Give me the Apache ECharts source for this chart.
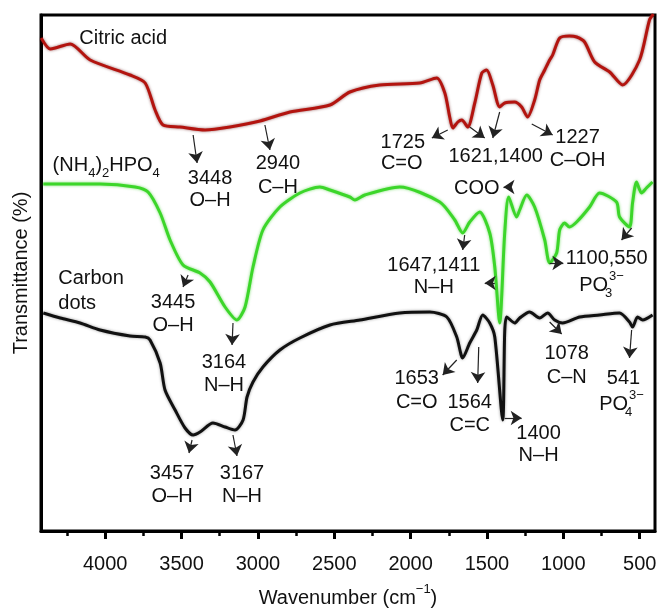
<!DOCTYPE html>
<html>
<head>
<meta charset="utf-8">
<script src="https://cdn.jsdelivr.net/npm/echarts@6/dist/echarts.min.js"></script>
<style>
  html, body { margin: 0; padding: 0; background: #fff; }
  #chart { width: 662px; height: 608px; }
</style>
</head>
<body>
<div id="chart"></div>
<script>
// wavenumber (cm-1), relative transmittance (arbitrary units)
const citricAcid = [
  [4419, 493], [4360, 482], [4327, 483], [4229, 487], [4098, 471], [3837, 456],
  [3738, 448], [3673, 421], [3621, 406], [3510, 404], [3346, 401], [3183, 404],
  [2986, 410], [2790, 419], [2528, 426], [2398, 439], [2202, 446], [1940, 448],
  [1829, 453], [1776, 438], [1744, 414], [1724, 403], [1691, 409], [1665, 411],
  [1626, 404], [1580, 428], [1534, 458], [1502, 461], [1462, 446], [1417, 424],
  [1384, 428], [1319, 429], [1273, 424], [1234, 414], [1188, 431], [1155, 451],
  [1122, 461], [1090, 471], [1070, 476], [1024, 493], [960, 495], [913, 494],
  [861, 489], [795, 469], [697, 459], [612, 446], [501, 471], [436, 511], [410, 517]
]

const ammoniumPhosphate = [
  [4405, 347], [4033, 347], [3804, 344], [3719, 339], [3640, 318], [3575, 291],
  [3490, 266], [3379, 258], [3313, 249], [3215, 224], [3137, 211], [3084, 224],
  [3032, 264], [2967, 301], [2856, 324], [2725, 338], [2594, 344], [2528, 341],
  [2398, 334], [2365, 331], [2300, 336], [2071, 344], [1809, 329], [1711, 311],
  [1659, 298], [1613, 309], [1548, 319], [1482, 298], [1449, 264], [1417, 208],
  [1384, 298], [1358, 334], [1306, 314], [1286, 321], [1240, 336], [1188, 324],
  [1122, 291], [1090, 268], [1044, 278], [1024, 301], [992, 308], [960, 304],
  [913, 309], [828, 324], [763, 338], [652, 329], [632, 314], [567, 304],
  [547, 328], [521, 349], [488, 338], [456, 343], [416, 349]
]

const carbonDots = [
  [4405, 218], [4294, 213], [4164, 208], [4033, 201], [3837, 195], [3738, 194],
  [3706, 191], [3640, 168], [3608, 141], [3542, 121], [3477, 103], [3424, 96],
  [3379, 99], [3294, 108], [3215, 104], [3150, 101], [3097, 111], [3071, 134],
  [3032, 149], [2967, 164], [2856, 181], [2725, 193], [2528, 206], [2332, 211],
  [2071, 218], [1874, 219], [1763, 214], [1698, 194], [1659, 173], [1613, 188],
  [1567, 201], [1528, 216], [1482, 208], [1449, 194], [1397, 111], [1384, 199],
  [1371, 214], [1319, 208], [1286, 213], [1221, 219], [1155, 213], [1103, 218],
  [1057, 211], [1005, 208], [893, 214], [763, 216], [632, 218], [567, 209],
  [547, 204], [514, 214], [481, 211], [416, 216]
]

const majorTicks = [4000, 3500, 3000, 2500, 2000, 1500, 1000, 500]
const minorTicks = [4250, 3750, 3250, 2750, 2250, 1750, 1250, 750]

// annotation text: [wavenumber, value, text, align]
const notes = [
  [3882, 493, '{n|Citric acid}', 'center'],
  [3993, 366, '{n|(NH}{sub|4}{n|)}{sub|2}{n|HPO}{sub|4}', 'center'],
  [4307, 253, '{n|Carbon}', 'left'],
  [4307, 228, '{n|dots}', 'left'],
  [3313, 353, '{n|3448}', 'center'], [3313, 331, '{n|O–H}', 'center'],
  [2869, 368, '{n|2940}', 'center'], [2869, 344, '{n|C–H}', 'center'],
  [2051, 389, '{n|1725}', 'center'], [2058, 368, '{n|C=O}', 'center'],
  [1443, 375, '{n|1621,1400}', 'center'],
  [1567, 343, '{n|COO}', 'center'],
  [907, 394, '{n|1227}', 'center'], [907, 371, '{n|C–OH}', 'center'],
  [3555, 229, '{n|3445}', 'center'], [3555, 206, '{n|O–H}', 'center'],
  [3222, 169, '{n|3164}', 'center'], [3222, 146, '{n|N–H}', 'center'],
  [3562, 58, '{n|3457}', 'center'], [3562, 35, '{n|O–H}', 'center'],
  [3104, 58, '{n|3167}', 'center'], [3104, 35, '{n|N–H}', 'center'],
  [1848, 266, '{n|1647,1411}', 'center'], [1848, 244, '{n|N–H}', 'center'],
  [716, 273, '{n|1100,550}', 'center'],
  [750, 246, '{n|PO}{subS|3}{sup|3−}', 'center'],
  [1960, 153, '{n|1653}', 'center'], [1960, 129, '{n|C=O}', 'center'],
  [1613, 129, '{n|1564}', 'center'], [1613, 106, '{n|C=C}', 'center'],
  [1162, 98, '{n|1400}', 'center'], [1162, 76, '{n|N–H}', 'center'],
  [978, 178, '{n|1078}', 'center'], [978, 154, '{n|C–N}', 'center'],
  [606, 153, '{n|541}', 'center'],
  [619, 127, '{n|PO}{subS|4}{sup|3−}', 'center']
]

// arrows: [from wn, from value, to wn, to value] (head at "to")
const arrows = [
  [3424, 396, 3398, 368], [2954, 406, 2921, 381], [1757, 401, 1861, 393],
  [1613, 404, 1515, 393], [1417, 419, 1462, 393], [1207, 407, 1070, 396],
  [1345, 344, 1392, 344], [3457, 256, 3490, 244], [3163, 208, 3169, 186],
  [3431, 91, 3451, 78], [3163, 96, 3137, 75], [1646, 296, 1659, 281],
  [1449, 248, 1515, 248], [1090, 268, 1000, 268], [553, 303, 619, 291],
  [1698, 171, 1790, 156], [1554, 184, 1561, 148], [1384, 113, 1273, 113],
  [1090, 209, 1011, 197], [553, 201, 567, 173]
]

const FONT = 'Liberation Sans, Arial, sans-serif'
const INK = '#111'

const richStyles = {
  n: { fontSize: 20, lineHeight: 30, color: INK, fontFamily: FONT },
  sub: { fontSize: 13, lineHeight: 16, verticalAlign: 'bottom', color: INK, fontFamily: FONT },
  subS: { fontSize: 13, lineHeight: 16, verticalAlign: 'bottom', width: 1, color: INK, fontFamily: FONT },
  sup: { fontSize: 13, lineHeight: 20, verticalAlign: 'top', color: INK, fontFamily: FONT }
}

const chart = echarts.init(document.getElementById('chart'))

const lineSeries = (name, data, color, shadow) => ({
  name,
  type: 'line',
  data,
  smooth: 0.25,
  showSymbol: false,
  xAxisIndex: 0,
  lineStyle: { color, width: 3, shadowColor: shadow, shadowBlur: 3 },
  z: 3
})

const option = {
  animation: false,
  backgroundColor: '#fff',
  grid: {
    left: 41, right: 7, top: 15, bottom: 77,
    outerBoundsMode: 'none',
    containLabel: false,
    show: true, borderColor: '#000', borderWidth: 3, backgroundColor: 'transparent'
  },
  xAxis: [
    {
      type: 'value',
      min: 400,
      max: 4420,
      inverse: true,
      position: 'bottom',
      axisLine: { show: true, lineStyle: { color: '#000', width: 3 } },
      axisTick: { show: true, inside: false, length: 8, customValues: majorTicks,
        lineStyle: { color: '#000', width: 3 } },
      axisLabel: { show: true, customValues: majorTicks, margin: 23, fontSize: 20,
        color: INK, fontFamily: FONT, formatter: v => String(v) },
      splitLine: { show: false },
      name: '{n|Wavenumber (cm}{sup|−1}{n|)}',
      nameLocation: 'middle',
      nameGap: 52,
      nameTextStyle: {
        rich: {
          n: { fontSize: 20, lineHeight: 30, color: INK, fontFamily: FONT },
          sup: { fontSize: 13, lineHeight: 18, verticalAlign: 'top', color: INK, fontFamily: FONT }
        }
      }
    },
    {
      // minor ticks
      type: 'value',
      min: 400,
      max: 4420,
      inverse: true,
      position: 'bottom',
      axisLine: { show: false },
      axisTick: { show: true, inside: false, length: 5, customValues: minorTicks,
        lineStyle: { color: '#000', width: 2.5 } },
      axisLabel: { show: false },
      splitLine: { show: false }
    }
  ],
  yAxis: {
    type: 'value',
    min: 0,
    max: 516,
    axisLine: { show: true, lineStyle: { color: '#000', width: 3 } },
    axisTick: { show: false },
    axisLabel: { show: false },
    splitLine: { show: false },
    name: 'Transmittance (%)',
    nameLocation: 'middle',
    nameGap: 10,
    nameTextStyle: { fontSize: 20, color: INK, fontFamily: FONT }
  },
  series: [
    lineSeries('Citric acid', citricAcid, '#b3140f', 'rgba(90,0,0,0.6)'),
    lineSeries('(NH4)2HPO4', ammoniumPhosphate, '#3cd62a', 'rgba(40,200,20,0.6)'),
    lineSeries('Carbon dots', carbonDots, '#111111', 'rgba(0,0,0,0.4)'),
    {
      name: 'notes',
      type: 'scatter',
      xAxisIndex: 0,
      symbolSize: 0,
      silent: true,
      z: 5,
      itemStyle: { opacity: 1 },
      data: notes.map(([x, y, text, align]) => ({
        value: [x, y],
        name: text,
        label: { align }
      })),
      label: {
        show: true,
        position: 'inside',
        color: INK,
        opacity: 1,
        textBorderWidth: 0,
        formatter: p => p.name,
        rich: richStyles
      },
      markLine: {
        silent: true,
        symbol: ['none', 'arrow'],
        symbolSize: 11,
        label: { show: false },
        lineStyle: { color: '#222', width: 1.2, type: 'solid', opacity: 1 },
        data: arrows.map(a => [{ coord: [a[0], a[1]] }, { coord: [a[2], a[3]] }])
      }
    }
  ]
}

chart.setOption(option)
</script>
</body>
</html>
